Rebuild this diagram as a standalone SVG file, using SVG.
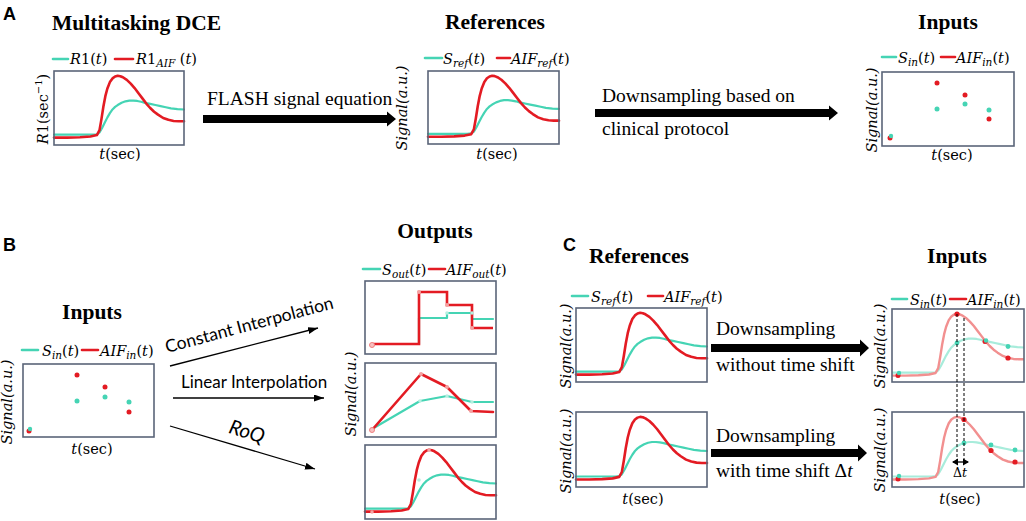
<svg xmlns="http://www.w3.org/2000/svg" xmlns:xlink="http://www.w3.org/1999/xlink" width="1026" height="521" viewBox="0 0 1026 521">
<style>
.box{fill:none;stroke:#5a6478;stroke-width:1.6}
.red{fill:none;stroke:#e31b23;stroke-width:2.6;stroke-linejoin:round;stroke-linecap:round}
.teal{fill:none;stroke:#45d4b4;stroke-width:2.2;stroke-linejoin:round;stroke-linecap:round}
.fred{fill:none;stroke:#f29090;stroke-width:2.4;stroke-linejoin:round}
.fteal{fill:none;stroke:#a8ecdb;stroke-width:2.2;stroke-linejoin:round}
.dr{fill:#e31b23}.dt{fill:#45d4b4}
.fdr{fill:#f4a3a3}.fdt{fill:#b5efe0}
.leg{stroke-width:2.6}
.title{font-family:"Liberation Serif",serif;font-weight:bold;font-size:21.5px;text-anchor:middle;fill:#000}
.lbl{font-family:"Liberation Serif",serif;font-size:19.5px;fill:#000}
.sans{font-family:Lato,"Open Sans",sans-serif;font-size:17px;fill:#000}
.m{font-family:"DejaVu Serif",serif;font-size:14.5px;fill:#000}
.c{text-anchor:middle}
.i{font-style:italic}
.sub{font-size:10.5px;font-style:italic}
.panel{font-family:"Liberation Sans",Arial,sans-serif;font-weight:bold;font-size:18px}
.thin{fill:none;stroke:#000;stroke-width:1.3}
.dash{fill:none;stroke:#000;stroke-width:1;stroke-dasharray:3 2}
</style>
<defs>
<polyline id="rc" vector-effect="non-scaling-stroke" points="0,90 10,90 20,89.5 28,88.5 33,86.5 35,80 36.5,65 38,48 39.5,34 41,24 43,15 45,10 47,7.5 49,6.5 51,7 53,8.5 56,12 59,17 62,23 65,30 68,37 71,44 74,50 77,55 80,59 84,63.5 88,66 92,67.5 96,68 100,68"/>
<polyline id="tc" vector-effect="non-scaling-stroke" points="0,86 20,86 30,86 33,85.5 35,83 37,77 39,70 41,63 43,57 45,52 47,48.5 49,46 52,43 55,41 58,40 61,40 64,40.5 67,41.5 70,43 74,44.5 78,46 82,47.5 86,49 90,50.5 95,51.5 100,52"/>
<marker id="ah" markerUnits="userSpaceOnUse" markerWidth="11" markerHeight="8" refX="10" refY="3.5" orient="auto"><path d="M0,0 L10,3.5 L0,7 z" fill="#000"/></marker>
<marker id="dh" markerUnits="userSpaceOnUse" markerWidth="7" markerHeight="8" refX="5" refY="3.5" orient="auto-start-reverse"><path d="M0,0 L6,3.5 L0,7 z" fill="#000"/></marker>
</defs>

<text class="panel" x="3" y="20">A</text>
<text class="panel" x="3" y="251">B</text>
<text class="panel" x="563" y="251">C</text>

<!-- A1 -->
<g id="a-dce">
<text class="title" x="52" y="30" style="text-anchor:start">Multitasking DCE</text>
<line class="teal leg" x1="53" y1="59" x2="68" y2="59"/>
<text class="m" x="70" y="64"><tspan class="i">R</tspan>1(<tspan class="i">t</tspan>)</text>
<line class="red leg" x1="115" y1="59" x2="133" y2="59"/>
<text class="m" x="136" y="64"><tspan class="i">R</tspan>1<tspan class="sub" dy="3">AIF</tspan><tspan dy="-3"> (</tspan><tspan class="i">t</tspan>)</text>
<use href="#tc" class="teal" transform="translate(54,71) scale(1.3,0.74)"/>
<use href="#rc" class="red" transform="translate(54,71) scale(1.3,0.74)"/>
<rect class="box" x="54" y="71" width="130" height="74"/>
<text class="m c" transform="translate(48,109) rotate(-90)"><tspan class="i">R</tspan>1(sec<tspan style="font-size:10px" dy="-6">−1</tspan><tspan dy="6">)</tspan></text>
<text class="m c" x="120" y="159"><tspan class="i">t</tspan>(sec)</text>
</g>

<!-- A2 -->
<g id="a-ref">
<text class="title" x="495" y="29">References</text>
<line class="teal leg" x1="425" y1="58" x2="442" y2="58"/>
<text class="m" x="443" y="64"><tspan class="i">S</tspan><tspan class="sub" dy="3">ref</tspan><tspan dy="-3">(</tspan><tspan class="i">t</tspan>)</text>
<line class="red leg" x1="497" y1="58" x2="510" y2="58"/>
<text class="m" x="511" y="64"><tspan class="i">AIF</tspan><tspan class="sub" dy="3">ref</tspan><tspan dy="-3">(</tspan><tspan class="i">t</tspan>)</text>
<use href="#tc" class="teal" transform="translate(428,71) scale(1.31,0.73)"/>
<use href="#rc" class="red" transform="translate(428,71) scale(1.31,0.73)"/>
<rect class="box" x="428" y="71" width="131" height="73"/>
<text class="m c i" transform="translate(407,108) rotate(-90)">Signal(a.u.)</text>
<text class="m c" x="497" y="159"><tspan class="i">t</tspan>(sec)</text>
</g>

<!-- A3 -->
<g id="a-in">
<text class="title" x="948" y="29">Inputs</text>
<line class="teal leg" x1="882" y1="57" x2="896" y2="57"/>
<text class="m" x="898" y="63"><tspan class="i">S</tspan><tspan class="sub" dy="3">in</tspan><tspan dy="-3">(</tspan><tspan class="i">t</tspan>)</text>
<line class="red leg" x1="941" y1="57" x2="955" y2="57"/>
<text class="m" x="956" y="63"><tspan class="i">AIF</tspan><tspan class="sub" dy="3">in</tspan><tspan dy="-3">(</tspan><tspan class="i">t</tspan>)</text>
<rect class="box" x="882" y="72" width="132" height="74"/>
<circle class="dr" cx="890" cy="138" r="2.5"/><circle class="dt" cx="891" cy="136" r="2.2"/>
<circle class="dr" cx="937" cy="83" r="2.5"/><circle class="dt" cx="937" cy="109" r="2.5"/>
<circle class="dr" cx="965" cy="95" r="2.5"/><circle class="dt" cx="965" cy="104" r="2.5"/>
<circle class="dr" cx="989" cy="119" r="2.5"/><circle class="dt" cx="989" cy="110" r="2.5"/>
<text class="m c i" transform="translate(877,110) rotate(-90)">Signal(a.u.)</text>
<text class="m c" x="952" y="160"><tspan class="i">t</tspan>(sec)</text>
</g>

<!-- B inputs -->
<g id="b-in">
<text class="title" x="92" y="319">Inputs</text>
<line class="teal leg" x1="22" y1="350" x2="38" y2="350"/>
<text class="m" x="42" y="356"><tspan class="i">S</tspan><tspan class="sub" dy="3">in</tspan><tspan dy="-3">(</tspan><tspan class="i">t</tspan>)</text>
<line class="red leg" x1="82" y1="350" x2="98" y2="350"/>
<text class="m" x="100" y="356"><tspan class="i">AIF</tspan><tspan class="sub" dy="3">in</tspan><tspan dy="-3">(</tspan><tspan class="i">t</tspan>)</text>
<rect class="box" x="23" y="364" width="131" height="73"/>
<circle class="dr" cx="29" cy="431" r="2.5"/><circle class="dt" cx="30" cy="429" r="2.2"/>
<circle class="dr" cx="77" cy="375" r="2.5"/><circle class="dt" cx="77" cy="401" r="2.5"/>
<circle class="dr" cx="105" cy="387" r="2.5"/><circle class="dt" cx="105" cy="397" r="2.5"/>
<circle class="dr" cx="129" cy="412" r="2.5"/><circle class="dt" cx="129" cy="402" r="2.5"/>
<text class="m c i" transform="translate(12,402) rotate(-90)">Signal(a.u.)</text>
<text class="m c" x="92" y="454"><tspan class="i">t</tspan>(sec)</text>
</g>

<!-- B outputs -->
<g id="b-out">
<text class="title" x="435" y="238">Outputs</text>
<line class="teal leg" x1="363" y1="269" x2="380" y2="269"/>
<text class="m" x="382" y="275"><tspan class="i">S</tspan><tspan class="sub" dy="3">out</tspan><tspan dy="-3">(</tspan><tspan class="i">t</tspan>)</text>
<line class="red leg" x1="429" y1="269" x2="445" y2="269"/>
<text class="m" x="446" y="275"><tspan class="i">AIF</tspan><tspan class="sub" dy="3">out</tspan><tspan dy="-3">(</tspan><tspan class="i">t</tspan>)</text>
<!-- constant -->
<polyline class="teal" points="372,344 419,344 419,318 447,318 447,313 472,313 472,319 493,319"/>
<polyline class="red" style="stroke-linecap:butt;stroke-linejoin:miter" points="372,344 419,344 419,292 447,292 447,305 472,305 472,328 493,328"/>
<circle cx="372" cy="345" r="2.5" fill="#f7c0c0" stroke="#f08080" stroke-width="1"/>
<circle class="fdr" cx="419" cy="292" r="2"/><circle class="fdr" cx="447" cy="305" r="2"/><circle class="fdr" cx="472" cy="328" r="2"/>
<circle class="fdt" cx="447" cy="313" r="1.8"/><circle class="fdt" cx="472" cy="313" r="1.8"/>
<rect class="box" x="365" y="281" width="131" height="73"/>
<!-- linear -->
<polyline class="teal" points="372,429 420,401 447,396 472,402 493,402"/>
<polyline class="red" points="372,430 421,374 447,387 471,411 493,412"/>
<circle cx="372" cy="430" r="2.5" fill="#f7c0c0" stroke="#f08080" stroke-width="1"/>
<circle class="fdr" cx="421" cy="374" r="2"/><circle class="fdr" cx="447" cy="387" r="2"/><circle class="fdr" cx="471" cy="411" r="2"/>
<circle class="fdt" cx="420" cy="401" r="1.8"/><circle class="fdt" cx="447" cy="396" r="1.8"/><circle class="fdt" cx="472" cy="402" r="1.8"/>
<rect class="box" x="365" y="363" width="131" height="74"/>
<!-- RoQ -->
<use href="#tc" class="teal" transform="translate(365,445) scale(1.31,0.74)"/>
<use href="#rc" class="red" transform="translate(365,445) scale(1.31,0.74)"/>
<circle class="fdr" cx="372" cy="512" r="1.8"/><circle class="fdr" cx="429" cy="450" r="1.8"/><circle class="fdt" cx="419" cy="480" r="1.8"/>
<rect class="box" x="365" y="445" width="131" height="74"/>
<text class="m c i" transform="translate(356,394) rotate(-90)">Signal(a.u.)</text>
</g>

<!-- C references -->
<g id="c-ref">
<text class="title" x="639" y="263">References</text>
<line class="teal leg" x1="572" y1="296" x2="588" y2="296"/>
<text class="m" x="591" y="302"><tspan class="i">S</tspan><tspan class="sub" dy="3">ref</tspan><tspan dy="-3">(</tspan><tspan class="i">t</tspan>)</text>
<line class="red leg" x1="648" y1="296" x2="663" y2="296"/>
<text class="m" x="664" y="302"><tspan class="i">AIF</tspan><tspan class="sub" dy="3">ref</tspan><tspan dy="-3">(</tspan><tspan class="i">t</tspan>)</text>
<use href="#tc" class="teal" transform="translate(576,308) scale(1.31,0.74)"/>
<use href="#rc" class="red" transform="translate(576,308) scale(1.31,0.74)"/>
<rect class="box" x="576" y="308" width="131" height="74"/>
<use href="#tc" class="teal" transform="translate(576,412) scale(1.31,0.75)"/>
<use href="#rc" class="red" transform="translate(576,412) scale(1.31,0.75)"/>
<rect class="box" x="576" y="412" width="131" height="75"/>
<text class="m c i" transform="translate(571,346) rotate(-90)">Signal(a.u.)</text>
<text class="m c i" transform="translate(571,451) rotate(-90)">Signal(a.u.)</text>
<text class="m c" x="643" y="504"><tspan class="i">t</tspan>(sec)</text>
</g>

<!-- C inputs -->
<g id="c-in">
<text class="title" x="957" y="263">Inputs</text>
<line class="teal leg" x1="892" y1="299" x2="907" y2="299"/>
<text class="m" x="910" y="305"><tspan class="i">S</tspan><tspan class="sub" dy="3">in</tspan><tspan dy="-3">(</tspan><tspan class="i">t</tspan>)</text>
<line class="red leg" x1="950" y1="299" x2="966" y2="299"/>
<text class="m" x="967" y="305"><tspan class="i">AIF</tspan><tspan class="sub" dy="3">in</tspan><tspan dy="-3">(</tspan><tspan class="i">t</tspan>)</text>
<use href="#tc" class="fteal" transform="translate(892,309) scale(1.32,0.74)"/>
<use href="#rc" class="fred" transform="translate(892,309) scale(1.32,0.74)"/>
<circle class="dr" cx="898" cy="375.5" r="2.5"/><circle class="dt" cx="899" cy="373" r="2.2"/>
<circle class="dr" cx="957" cy="314" r="2.6"/><circle class="dt" cx="957" cy="343" r="2.4"/>
<circle class="dr" cx="985" cy="341.5" r="2.5"/><circle class="dt" cx="986" cy="340.5" r="2.2"/>
<circle class="dr" cx="1008" cy="358" r="2.6"/><circle class="dt" cx="1008" cy="346.5" r="2.4"/>
<rect class="box" x="892" y="309" width="132" height="73"/>
<use href="#tc" class="fteal" transform="translate(892,412) scale(1.32,0.75)"/>
<use href="#rc" class="fred" transform="translate(892,412) scale(1.32,0.75)"/>
<circle class="dr" cx="898" cy="479" r="2.5"/><circle class="dt" cx="899" cy="476" r="2.2"/>
<circle class="dr" cx="964" cy="419.5" r="2.6"/><circle class="dt" cx="964" cy="443" r="2.4"/>
<circle class="dr" cx="991" cy="450.5" r="2.6"/><circle class="dt" cx="991" cy="445" r="2.4"/>
<circle class="dr" cx="1015" cy="462" r="2.6"/><circle class="dt" cx="1015" cy="450" r="2.4"/>
<rect class="box" x="892" y="412" width="132" height="75"/>
<line class="dash" x1="957" y1="314" x2="957" y2="461"/>
<line class="dash" x1="964" y1="318" x2="964" y2="461"/>
<line class="thin" x1="953" y1="462" x2="968" y2="462" marker-start="url(#dh)" marker-end="url(#dh)"/>
<text class="m c" x="960" y="477" style="font-size:12.5px"><tspan>Δ</tspan><tspan class="i">t</tspan></text>
<text class="m c i" transform="translate(885,346) rotate(-90)">Signal(a.u.)</text>
<text class="m c i" transform="translate(885,450) rotate(-90)">Signal(a.u.)</text>
<text class="m c" x="960" y="504"><tspan class="i">t</tspan>(sec)</text>
</g>

<!-- connectors -->
<g id="connectors">
<path d="M203,115 L387,115 L387,111.5 L396,119 L387,126.5 L387,123 L203,123 z" fill="#000"/>
<text class="lbl" x="207" y="105">FLASH signal equation</text>
<path d="M595,109 L829,109 L829,105.5 L838,113 L829,120.5 L829,117 L595,117 z" fill="#000"/>
<text class="lbl" x="602" y="102">Downsampling based on</text>
<text class="lbl" x="602" y="135">clinical protocol</text>

<line class="thin" x1="170" y1="366" x2="318" y2="328" marker-end="url(#ah)"/>
<text class="sans" transform="translate(167,353) rotate(-15)" style="font-size:17.5px">Constant Interpolation</text>
<line class="thin" x1="173" y1="398" x2="324" y2="398" marker-end="url(#ah)"/>
<text class="sans" x="181" y="388">Linear Interpolation</text>
<line class="thin" x1="170" y1="426" x2="315" y2="469" marker-end="url(#ah)"/>
<text class="sans i c" transform="translate(245,438) rotate(17)" style="font-size:20px">RoQ</text>

<path d="M711,344 L860,344 L860,339.5 L869,348 L860,356.5 L860,352 L711,352 z" fill="#000"/>
<text class="lbl" x="716" y="335">Downsampling</text>
<text class="lbl" x="716" y="371">without time shift</text>
<path d="M711,449 L858,449 L858,444.5 L867,453 L858,461.5 L858,457 L711,457 z" fill="#000"/>
<text class="lbl" x="716" y="442">Downsampling</text>
<text class="lbl" x="716" y="477">with time shift Δ<tspan style="font-style:italic">t</tspan></text>
</g>
</svg>
